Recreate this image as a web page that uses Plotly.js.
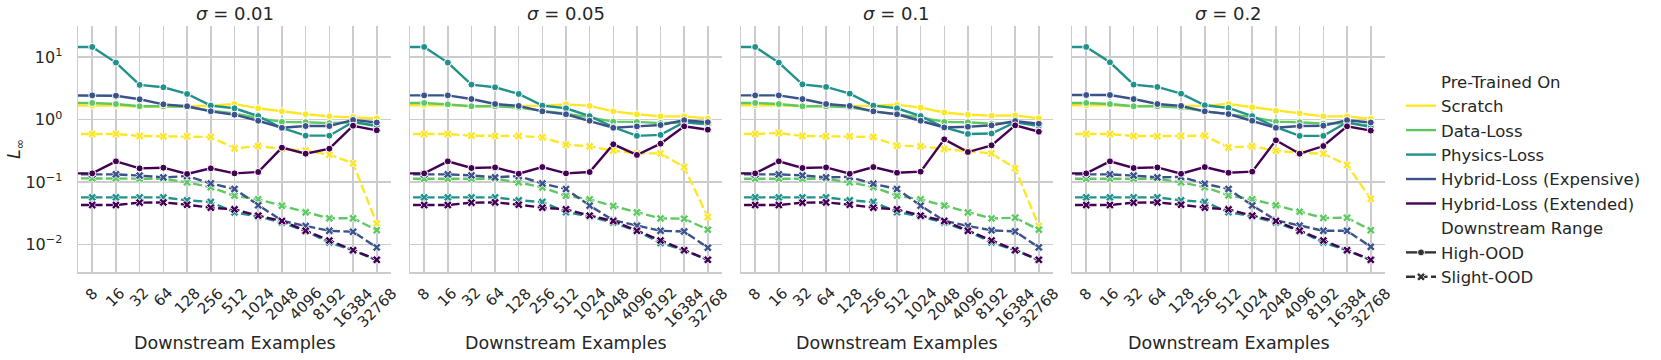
<!DOCTYPE html>
<html>
<head>
<meta charset="utf-8">
<script src="https://cdn.plot.ly/plotly-3.0.1.min.js"></script>
<style>
  body { margin: 0; background: #fff; }
  #grafica { width: 1661px; height: 360px; }
</style>
</head>
<body>
<div id="grafica"></div>
<script>
// first category ("4") is cut off by the x range, only its segment to "8" shows
const EJEMPLOS = ['4', '8', '16', '32', '64', '128', '256', '512', '1024', '2048', '4096', '8192', '16384', '32768'];
const ETIQUETAS_X = EJEMPLOS.slice(1);
const SIGMAS = ['0.01', '0.05', '0.1', '0.2'];
const NOMBRES = ['Scratch', 'Data-Loss', 'Physics-Loss', 'Hybrid-Loss (Expensive)', 'Hybrid-Loss (Extended)'];
const COLORES = ['#fde725', '#5ec962', '#21918c', '#3b528b', '#440154'];
const RANGOS = ['High-OOD', 'Slight-OOD'];

// one row per sigma panel
const SCRATCH_HIGH = [
  [1.68, 1.68, 1.68, 1.60, 1.60, 1.64, 1.68, 1.78, 1.52, 1.36, 1.22, 1.13, 1.10, 1.05],
  [1.70, 1.70, 1.70, 1.64, 1.64, 1.68, 1.68, 1.76, 1.66, 1.36, 1.22, 1.13, 1.13, 1.05],
  [1.70, 1.70, 1.70, 1.64, 1.64, 1.68, 1.68, 1.74, 1.56, 1.30, 1.20, 1.16, 1.17, 1.05],
  [1.70, 1.70, 1.70, 1.64, 1.64, 1.68, 1.68, 1.78, 1.58, 1.39, 1.26, 1.13, 1.13, 1.03]
];
const DATA_HIGH = [
  [1.85, 1.85, 1.78, 1.64, 1.64, 1.60, 1.39, 1.26, 1.06, 0.92, 0.91, 0.88, 0.91, 0.79],
  [1.85, 1.85, 1.76, 1.64, 1.64, 1.56, 1.38, 1.25, 1.09, 0.93, 0.92, 0.88, 0.91, 0.86],
  [1.85, 1.85, 1.78, 1.64, 1.64, 1.58, 1.36, 1.23, 1.09, 0.92, 0.91, 0.86, 0.91, 0.83],
  [1.85, 1.85, 1.78, 1.64, 1.64, 1.56, 1.36, 1.23, 1.10, 0.93, 0.91, 0.86, 0.88, 0.80]
];
const PHYSICS_HIGH = [
  [14.6, 14.6, 8.2, 3.60, 3.30, 2.58, 1.68, 1.52, 1.14, 0.735, 0.554, 0.554, 0.92, 0.80],
  [14.6, 14.6, 8.2, 3.64, 3.30, 2.58, 1.68, 1.52, 1.14, 0.76, 0.55, 0.57, 0.91, 0.84],
  [14.6, 14.6, 8.2, 3.68, 3.34, 2.61, 1.68, 1.52, 1.14, 0.75, 0.59, 0.60, 0.91, 0.79],
  [14.6, 14.6, 8.3, 3.64, 3.34, 2.61, 1.70, 1.54, 1.14, 0.76, 0.55, 0.55, 0.91, 0.76]
];
const EXPENSIVE_HIGH = [
  [2.45, 2.45, 2.42, 2.12, 1.76, 1.64, 1.36, 1.20, 0.96, 0.74, 0.79, 0.79, 0.99, 0.90],
  [2.45, 2.45, 2.45, 2.14, 1.78, 1.66, 1.36, 1.22, 0.96, 0.74, 0.78, 0.82, 0.98, 0.91],
  [2.45, 2.45, 2.45, 2.14, 1.78, 1.66, 1.36, 1.22, 0.96, 0.75, 0.77, 0.81, 0.95, 0.86],
  [2.48, 2.48, 2.48, 2.14, 1.78, 1.66, 1.36, 1.23, 0.96, 0.74, 0.79, 0.80, 0.98, 0.90]
];
const EXTENDED_HIGH = [
  [0.138, 0.138, 0.215, 0.166, 0.170, 0.135, 0.166, 0.138, 0.145, 0.356, 0.285, 0.343, 0.80, 0.675],
  [0.138, 0.138, 0.215, 0.168, 0.172, 0.136, 0.174, 0.138, 0.145, 0.403, 0.272, 0.413, 0.782, 0.69],
  [0.138, 0.138, 0.215, 0.168, 0.172, 0.136, 0.174, 0.141, 0.147, 0.484, 0.303, 0.388, 0.81, 0.64],
  [0.138, 0.138, 0.215, 0.168, 0.172, 0.136, 0.174, 0.141, 0.147, 0.467, 0.285, 0.378, 0.782, 0.667]
];

const SCRATCH_SLIGHT = [
  [0.589, 0.589, 0.589, 0.547, 0.541, 0.541, 0.527, 0.347, 0.378, 0.34, 0.318, 0.275, 0.20, 0.0216],
  [0.589, 0.589, 0.589, 0.553, 0.547, 0.547, 0.521, 0.397, 0.374, 0.318, 0.288, 0.288, 0.174, 0.0275],
  [0.589, 0.589, 0.611, 0.547, 0.541, 0.541, 0.527, 0.383, 0.374, 0.339, 0.311, 0.288, 0.166, 0.0198],
  [0.589, 0.589, 0.589, 0.547, 0.541, 0.547, 0.553, 0.36, 0.374, 0.318, 0.292, 0.285, 0.188, 0.054]
];
const DATA_SLIGHT = [
  [0.115, 0.115, 0.115, 0.113, 0.113, 0.099, 0.083, 0.0605, 0.053, 0.0418, 0.0328, 0.0263, 0.0263, 0.0170],
  [0.113, 0.113, 0.113, 0.113, 0.113, 0.099, 0.082, 0.0605, 0.053, 0.0414, 0.0327, 0.0262, 0.0259, 0.0173],
  [0.113, 0.113, 0.113, 0.113, 0.113, 0.099, 0.083, 0.0605, 0.053, 0.042, 0.0327, 0.0262, 0.0269, 0.0173],
  [0.113, 0.113, 0.113, 0.113, 0.113, 0.099, 0.083, 0.0613, 0.053, 0.0425, 0.0335, 0.0266, 0.0269, 0.0170]
];
const PHYSICS_SLIGHT = [
  [0.0569, 0.0569, 0.0569, 0.0569, 0.0569, 0.051, 0.048, 0.0327, 0.0282, 0.0225, 0.0164, 0.0108, 0.0081, 0.0056],
  [0.0569, 0.0569, 0.0569, 0.0569, 0.0569, 0.051, 0.048, 0.0330, 0.0282, 0.0225, 0.0164, 0.0106, 0.0081, 0.0057],
  [0.0569, 0.0569, 0.0569, 0.0569, 0.0569, 0.051, 0.048, 0.0330, 0.0282, 0.0225, 0.0164, 0.0108, 0.0081, 0.0056],
  [0.0569, 0.0569, 0.0569, 0.0569, 0.0569, 0.051, 0.048, 0.0330, 0.0282, 0.0225, 0.0164, 0.0108, 0.0081, 0.0056]
];
const EXPENSIVE_SLIGHT = [
  [0.133, 0.133, 0.133, 0.127, 0.119, 0.125, 0.095, 0.0775, 0.0425, 0.024, 0.0198, 0.0166, 0.0160, 0.0090],
  [0.133, 0.133, 0.133, 0.128, 0.119, 0.125, 0.095, 0.0775, 0.0419, 0.0245, 0.020, 0.0166, 0.0162, 0.0089],
  [0.133, 0.133, 0.133, 0.128, 0.119, 0.121, 0.094, 0.0775, 0.0419, 0.024, 0.0198, 0.0169, 0.0162, 0.0090],
  [0.133, 0.133, 0.133, 0.127, 0.119, 0.121, 0.094, 0.0775, 0.0423, 0.0245, 0.020, 0.0166, 0.0166, 0.0092]
];
const EXTENDED_SLIGHT = [
  [0.0429, 0.0429, 0.0429, 0.0468, 0.0473, 0.0434, 0.0389, 0.0366, 0.029, 0.0238, 0.0166, 0.0116, 0.0081, 0.0057],
  [0.0429, 0.0429, 0.0429, 0.0468, 0.0473, 0.0434, 0.0389, 0.0366, 0.029, 0.0238, 0.0166, 0.0116, 0.0081, 0.0057],
  [0.0429, 0.0429, 0.0429, 0.0468, 0.0473, 0.0434, 0.0389, 0.0366, 0.029, 0.0238, 0.0166, 0.0116, 0.0081, 0.0057],
  [0.0429, 0.0429, 0.0429, 0.0468, 0.0473, 0.0434, 0.0389, 0.0366, 0.029, 0.0238, 0.0166, 0.0116, 0.0081, 0.0057]
];

const SERIES_HIGH = [SCRATCH_HIGH, DATA_HIGH, PHYSICS_HIGH, EXPENSIVE_HIGH, EXTENDED_HIGH];
const SERIES_SLIGHT = [SCRATCH_SLIGHT, DATA_SLIGHT, PHYSICS_SLIGHT, EXPENSIVE_SLIGHT, EXTENDED_SLIGHT];

const FUENTE = 'DejaVu Sans, sans-serif';
const TEXTO = '#262626';
const GRIS = '#cccccc';
const ANCHO = 1661, ALTO = 360;

// panel boxes in pixels: [left, right]
const PANELES = [[78, 391], [410, 722], [741, 1053], [1072, 1385]];
const ARRIBA = 26, ABAJO = 272;

const MARCA_HIGH = {symbol: 'circle', size: 7, line: {color: 'white', width: 1}};
const MARCA_SLIGHT = {symbol: 'x', size: 7.5, line: {color: 'white', width: 0.8}};

let datos = [];
let layout = {
  width: ANCHO, height: ALTO,
  margin: {l: 0, r: 0, t: 0, b: 0},
  paper_bgcolor: 'white', plot_bgcolor: 'white',
  font: {family: FUENTE, color: TEXTO, size: 16},
  showlegend: true,
  legend: {
    x: 1401 / ANCHO, y: 1 - 64 / ALTO, xanchor: 'left', yanchor: 'top',
    font: {family: FUENTE, size: 16.5, color: TEXTO},
    bgcolor: 'rgba(0,0,0,0)', tracegroupgap: 0, itemwidth: 30
  },
  annotations: []
};

PANELES.forEach(function (p, i) {
  let sx = i === 0 ? '' : String(i + 1);
  let ejeX = 'x' + sx, ejeY = 'y' + sx;

  for (let s = 0; s < NOMBRES.length; s++) {
    datos.push({
      x: EJEMPLOS, y: SERIES_HIGH[s][i], xaxis: ejeX, yaxis: ejeY,
      mode: 'lines+markers', showlegend: false,
      line: {color: COLORES[s], width: 2.4},
      marker: Object.assign({color: COLORES[s]}, MARCA_HIGH)
    });
    datos.push({
      x: EJEMPLOS, y: SERIES_SLIGHT[s][i], xaxis: ejeX, yaxis: ejeY,
      mode: 'lines+markers', showlegend: false,
      line: {color: COLORES[s], width: 2.4, dash: '9px,3.5px'},
      marker: Object.assign({color: COLORES[s]}, MARCA_SLIGHT)
    });
  }

  layout['xaxis' + sx] = {
    domain: [p[0] / ANCHO, p[1] / ANCHO], anchor: ejeY,
    type: 'category', categoryorder: 'array', categoryarray: EJEMPLOS,
    range: [0.4, 13.6], showticklabels: false, ticks: '',
    showgrid: true, gridcolor: GRIS, gridwidth: 1.5,
    showline: true, linecolor: GRIS, linewidth: 1.5, zeroline: false
  };
  layout['yaxis' + sx] = {
    domain: [1 - ABAJO / ALTO, 1 - ARRIBA / ALTO], anchor: ejeX,
    type: 'log', range: [-2.44, 1.50],
    tickvals: [0.01, 0.1, 1, 10],
    ticktext: ['10<sup>\u22122</sup>', '10<sup>\u22121</sup>', '10<sup>0</sup>', '10<sup>1</sup>'],
    showticklabels: i === 0, ticks: '', ticklabelstandoff: 11,
    tickfont: {size: 16},
    showgrid: true, gridcolor: GRIS, gridwidth: 1.5,
    showline: true, linecolor: GRIS, linewidth: 1.5, zeroline: false
  };

  let centro = (p[0] + p[1]) / 2 / ANCHO;
  layout.annotations.push({
    text: '<i>\u03c3</i> = ' + SIGMAS[i], xref: 'paper', yref: 'paper',
    x: centro, y: 1 - 14 / ALTO, xanchor: 'center', yanchor: 'middle',
    showarrow: false, font: {size: 18}
  });
  layout.annotations.push({
    text: 'Downstream Examples', xref: 'paper', yref: 'paper',
    x: centro, y: 1 - 343 / ALTO, xanchor: 'center', yanchor: 'middle',
    showarrow: false, font: {size: 17.5}
  });
  // rotated tick labels centred under each tick, like matplotlib
  ETIQUETAS_X.forEach(function (t, k) {
    layout.annotations.push({
      text: t, xref: ejeX, yref: 'paper', x: k + 1, y: 1 - 283 / ALTO,
      xanchor: 'center', yanchor: 'top', textangle: -45,
      showarrow: false, font: {size: 15}, borderpad: 0
    });
  });
});

layout.annotations.push({
  text: '<i>L</i><sub>\u221e</sub>', xref: 'paper', yref: 'paper',
  x: 15 / ANCHO, y: 1 - 149 / ALTO, xanchor: 'center', yanchor: 'middle',
  textangle: -90, showarrow: false, font: {size: 17.5}
});

// legend entries (headers are invisible traces)
function entrada(nombre, linea, marca) {
  let traza = {
    x: [null], y: [null], xaxis: 'x4', yaxis: 'y4', name: nombre,
    mode: 'lines', line: linea, showlegend: true
  };
  if (marca) {
    traza.mode = 'lines+markers';
    traza.marker = marca;
  }
  datos.push(traza);
}
entrada('Pre-Trained On', {color: 'rgba(0,0,0,0)', width: 2});
NOMBRES.forEach(function (n, s) { entrada(n, {color: COLORES[s], width: 2.4}); });
entrada('Downstream Range', {color: 'rgba(0,0,0,0)', width: 2});
entrada(RANGOS[0], {color: '#333333', width: 2.4}, Object.assign({color: '#333333'}, MARCA_HIGH));
entrada(RANGOS[1], {color: '#333333', width: 2.4, dash: '9px,3.5px'}, Object.assign({color: '#333333'}, MARCA_SLIGHT));

Plotly.newPlot(document.getElementById('grafica'), datos, layout, {displayModeBar: false, staticPlot: true});
</script>
</body>
</html>
